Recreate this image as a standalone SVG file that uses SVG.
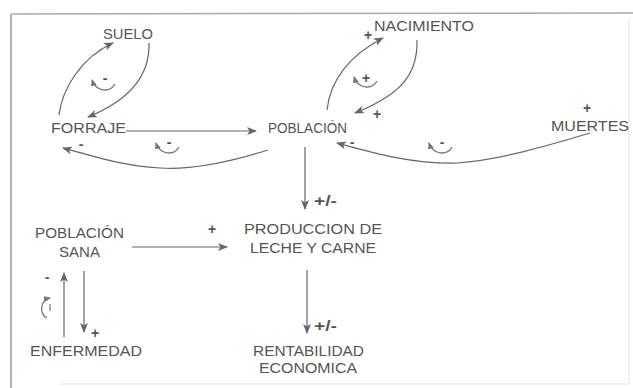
<svg xmlns="http://www.w3.org/2000/svg" width="633" height="388" viewBox="0 0 633 388">
<defs>
<marker id="ah" markerUnits="userSpaceOnUse" markerWidth="10" markerHeight="8" refX="9" refY="4" orient="auto-start-reverse">
<path d="M0,0 L10,4 L0,8 L2.5,4 Z" fill="#666"/>
</marker>
<marker id="ahs" markerUnits="userSpaceOnUse" markerWidth="7" markerHeight="6" refX="6" refY="3" orient="auto-start-reverse">
<path d="M0,0 L7,3 L0,6 Z" fill="#777"/>
</marker>
<g id="loop">
<path d="M-12,-5 C-8,7 6,8 11,-1" fill="none" stroke="#777" stroke-width="1.3" marker-start="url(#ahs)"/>
</g>
</defs>
<style>
text{font-family:"Liberation Sans",Arial,sans-serif;font-size:14px;fill:#555}
.sg{font-weight:bold;font-size:14px;fill:#555}
.c{fill:none;stroke:#666;stroke-width:1.2}
</style>
<rect width="633" height="388" fill="#fff"/>
<g id="frame">
<line x1="11" y1="14" x2="11" y2="388" stroke="#999" stroke-width="1.5"/>
<line x1="11" y1="14" x2="633" y2="13" stroke="#aaa" stroke-width="1.5"/>
<line x1="629" y1="20" x2="629" y2="384" stroke="#e4e4e4" stroke-width="1"/>
<line x1="60" y1="384" x2="629" y2="384" stroke="#e4e4e4" stroke-width="1"/>
</g>
<g id="connectors">
<path class="c" d="M59,115 C62,90 80,58 113,43" marker-end="url(#ah)"/>
<path class="c" d="M149,43 C150,75 130,100 88,117" marker-end="url(#ah)"/>
<path class="c" d="M126,131 L256,131" marker-end="url(#ah)"/>
<path class="c" d="M268,150 C230,162 190,170 160,168 C125,166 95,157 63,148" marker-end="url(#ah)"/>
<path class="c" d="M327,110 C330,80 350,55 383,38" marker-end="url(#ah)"/>
<path class="c" d="M417,40 C418,75 400,95 355,113" marker-end="url(#ah)"/>
<path class="c" d="M590,133 C550,145 500,160 457,163 C410,164 370,152 337,143" marker-end="url(#ah)"/>
<path class="c" d="M305,147 L305,209" marker-end="url(#ah)"/>
<path class="c" d="M307,270 L307,333" marker-end="url(#ah)"/>
<path class="c" d="M132,247 L227,247" marker-end="url(#ah)" stroke-width="1"/>
<path class="c" d="M84,271 L84,332" marker-end="url(#ah)"/>
<path class="c" d="M64,337 L64,273" marker-end="url(#ah)" stroke-width="0.9"/>
</g>
<g id="loops">
<use href="#loop" x="104" y="85"/>
<text class="sg" x="105" y="83" text-anchor="middle">-</text>
<use href="#loop" x="168" y="148"/>
<text class="sg" x="169" y="147" text-anchor="middle">-</text>
<use href="#loop" x="366" y="82"/>
<text class="sg" x="366" y="83" text-anchor="middle">+</text>
<use href="#loop" x="441" y="148"/>
<text class="sg" x="442" y="147" text-anchor="middle">-</text>
<path d="M50,298 C40,300 39,314 47,318" fill="none" stroke="#777" stroke-width="1.3" marker-start="url(#ahs)"/>
<line x1="50" y1="304" x2="50" y2="311" stroke="#777" stroke-width="1.2"/>
</g>
<g id="signs">
<text class="sg" x="368" y="40" text-anchor="middle">+</text>
<text class="sg" x="377" y="119" text-anchor="middle">+</text>
<text class="sg" x="587" y="113" text-anchor="middle">+</text>
<text class="sg" x="352" y="147" text-anchor="middle">-</text>
<text class="sg" x="81" y="149" text-anchor="middle">-</text>
<text class="sg" x="314" y="206" textLength="23" lengthAdjust="spacingAndGlyphs">+/-</text>
<text class="sg" x="314" y="331" textLength="23" lengthAdjust="spacingAndGlyphs">+/-</text>
<text class="sg" x="212" y="234" text-anchor="middle">+</text>
<text class="sg" x="95" y="338" text-anchor="middle">+</text>
<text class="sg" x="47" y="282" text-anchor="middle">-</text>
</g>
<g id="suelo"><text x="103" y="39" textLength="50" lengthAdjust="spacingAndGlyphs">SUELO</text></g>
<g id="nacimiento"><text x="374" y="31" textLength="100" lengthAdjust="spacingAndGlyphs">NACIMIENTO</text></g>
<g id="forraje"><text x="51" y="133" textLength="75" lengthAdjust="spacingAndGlyphs">FORRAJE</text></g>
<g id="poblacion"><text x="268" y="133" font-size="13" textLength="79" lengthAdjust="spacingAndGlyphs">POBLACIÓN</text></g>
<g id="muertes"><text x="551" y="131" textLength="78" lengthAdjust="spacingAndGlyphs">MUERTES</text></g>
<g id="poblacion-sana">
<text x="35" y="238" textLength="89" lengthAdjust="spacingAndGlyphs">POBLACIÓN</text>
<text x="59" y="257" textLength="41" lengthAdjust="spacingAndGlyphs">SANA</text>
</g>
<g id="produccion">
<text x="244" y="234" textLength="138" lengthAdjust="spacingAndGlyphs">PRODUCCION DE</text>
<text x="250" y="253" textLength="126" lengthAdjust="spacingAndGlyphs">LECHE Y CARNE</text>
</g>
<g id="enfermedad"><text x="30" y="356" textLength="112" lengthAdjust="spacingAndGlyphs">ENFERMEDAD</text></g>
<g id="rentabilidad">
<text x="253" y="356" textLength="111" lengthAdjust="spacingAndGlyphs">RENTABILIDAD</text>
<text x="259" y="373" textLength="98" lengthAdjust="spacingAndGlyphs">ECONOMICA</text>
</g>
</svg>
